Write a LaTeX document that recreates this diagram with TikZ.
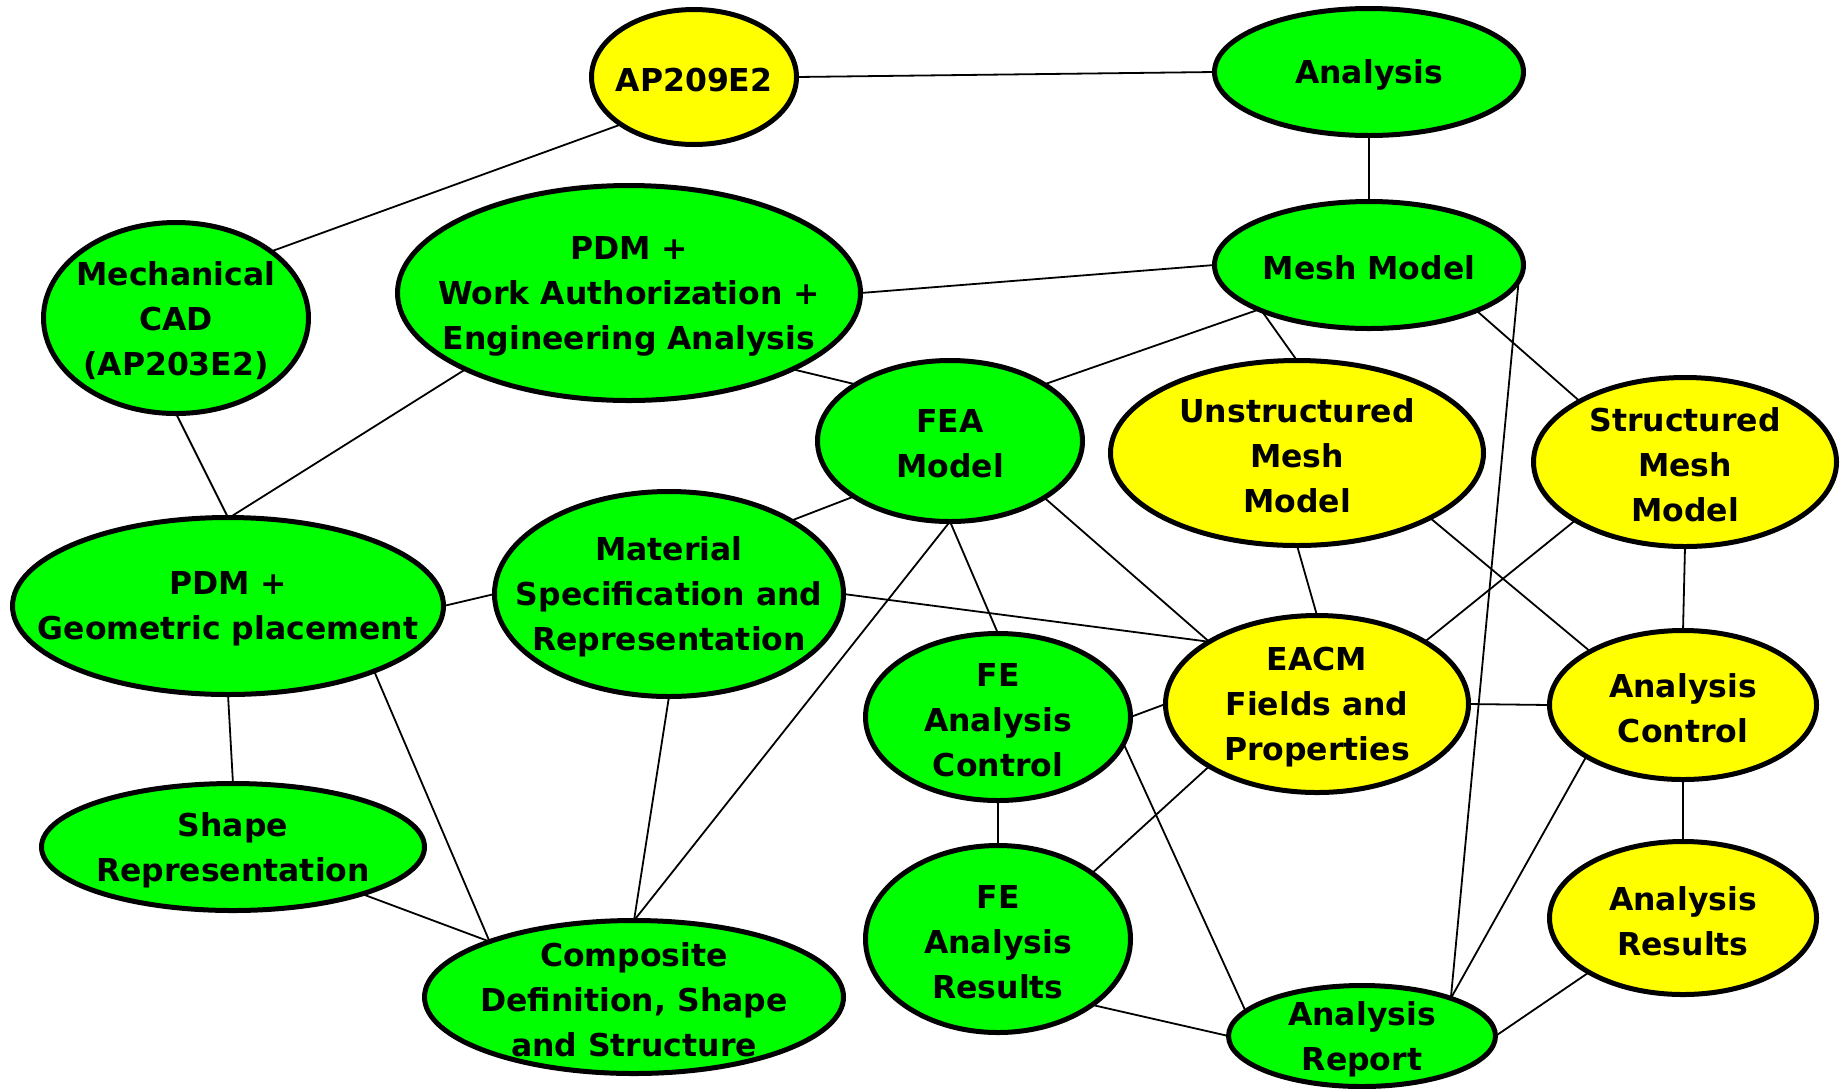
\documentclass[tikz,border=0pt]{standalone}
\usepackage{fontspec}
\newfontfamily\lblfont{DejaVu Sans}[BoldFont={DejaVu Sans Bold}]
\usetikzlibrary{shapes.geometric}
\definecolor{nodegreen}{HTML}{00FF00}
\definecolor{nodeyellow}{HTML}{FFFF00}
\tikzset{
  ell/.style={ellipse, draw=black, line width=5pt, inner sep=0pt, outer sep=0pt},
  gr/.style={ell, fill=nodegreen},
  yl/.style={ell, fill=nodeyellow},
  sz/.style 2 args={minimum width=#1pt, minimum height=#2pt},
  lbl/.style={align=center, inner sep=0pt, yshift=-3pt, font=\lblfont\bfseries\fontsize{31.5}{45}\selectfont},
  conn/.style={line width=1.8pt, draw=black}
}
\begin{document}
\begin{tikzpicture}[x=1pt, y=-1pt]
\useasboundingbox[fill=white] (0,0) rectangle (1843,1088);
\begin{scope}
\clip (0,0) rectangle (1843,1088);
% nodes
\node[yl, sz={205}{135}, label={[lbl]center:AP209E2}] (ap) at (694,77) {};
\node[gr, sz={309}{127}, label={[lbl]center:Analysis}] (an) at (1369,72) {};
\node[gr, sz={309}{127}, label={[lbl]center:Mesh Model}] (mesh) at (1369,265) {};
\node[gr, sz={265}{191}, label={[lbl]center:Mechanical\\CAD\\(AP203E2)}] (mcad) at (176,318) {};
\node[gr, sz={463}{215}, label={[lbl]center:PDM +\\Work Authorization +\\Engineering Analysis}] (pdmw) at (629,293) {};
\node[gr, sz={265}{161}, label={[lbl]center:FEA\\Model}] (fea) at (950,441) {};
\node[yl, sz={373}{185}, label={[lbl]center:Unstructured\\Mesh\\Model}] (uns) at (1297,453) {};
\node[yl, sz={303}{169}, label={[lbl]center:Structured\\Mesh\\Model}] (str) at (1685,462) {};
\node[gr, sz={431}{177}, label={[lbl]center:PDM +\\Geometric placement}] (pgeo) at (228,606) {};
\node[gr, sz={349}{205}, label={[lbl]center:Material\\Specification and\\Representation}] (mat) at (669,594) {};
\node[gr, sz={265}{167}, label={[lbl]center:FE\\Analysis\\Control}] (feac) at (998,717) {};
\node[yl, sz={303}{177}, label={[lbl]center:EACM\\Fields and\\Properties}] (eacm) at (1317,704) {};
\node[yl, sz={267}{149}, label={[lbl]center:Analysis\\Control}] (ac) at (1683,705) {};
\node[gr, sz={383}{127}, label={[lbl]center:Shape\\Representation}] (shape) at (233,847) {};
\node[gr, sz={265}{187}, label={[lbl]center:FE\\Analysis\\Results}] (fear) at (998,939) {};
\node[yl, sz={267}{153}, label={[lbl]center:Analysis\\Results}] (ar) at (1683,918) {};
\node[gr, sz={419}{153}, label={[lbl]center:Composite\\Definition, Shape\\and Structure}] (comp) at (634,997) {};
\node[gr, sz={267}{101}, label={[lbl]center:Analysis\\Report}] (rep) at (1362,1036) {};
% connectors
\draw[conn] (ap.0) -- (an.180);
\draw[conn] (ap.213.5) -- (mcad.35);
\draw[conn] (an.270) -- (mesh.90);
\draw[conn] (pdmw.0) -- (mesh.180);
\draw[conn] (mesh.202) -- (fea.31);
\draw[conn] (mesh.203) -- (uns.90);
\draw[conn] (mesh.337) -- (str.150.4);
\draw[conn] (mesh.354) -- (rep.23);
\draw[conn] (mcad.270) -- (pgeo.90);
\draw[conn] (pdmw.205.5) -- (pgeo.89);
\draw[conn] (pdmw.335) -- (fea.149);
\draw[conn] (fea.210) -- (mat.31.4);
\draw[conn] (fea.270) -- (feac.90);
\draw[conn] (fea.329) -- (eacm.150);
\draw[conn] (fea.270) -- (comp.90);
\draw[conn] (pgeo.0) -- (mat.180);
\draw[conn] (pgeo.270) -- (shape.90);
\draw[conn] (pgeo.336.6) -- (comp.159);
\draw[conn] (mat.0) -- (eacm.150);
\draw[conn] (mat.270) -- (comp.90);
\draw[conn] (shape.340.5) -- (comp.159);
\draw[conn] (uns.270) -- (eacm.90);
\draw[conn] (uns.334.3) -- (ac.150.4);
\draw[conn] (str.208) -- (eacm.30.4);
\draw[conn] (str.270) -- (ac.90);
\draw[conn] (feac.0) -- (eacm.180);
\draw[conn] (feac.270) -- (fear.90);
\draw[conn] (feac.348) -- (rep.168.6);
\draw[conn] (eacm.210.6) -- (fear.35);
\draw[conn] (eacm.0) -- (ac.180);
\draw[conn] (ac.270) -- (ar.90);
\draw[conn] (ac.208.9) -- (rep.23);
\draw[conn] (fear.325.6) -- (rep.180);
\draw[conn] (ar.210) -- (rep.0);
\end{scope}
\end{tikzpicture}
\end{document}
